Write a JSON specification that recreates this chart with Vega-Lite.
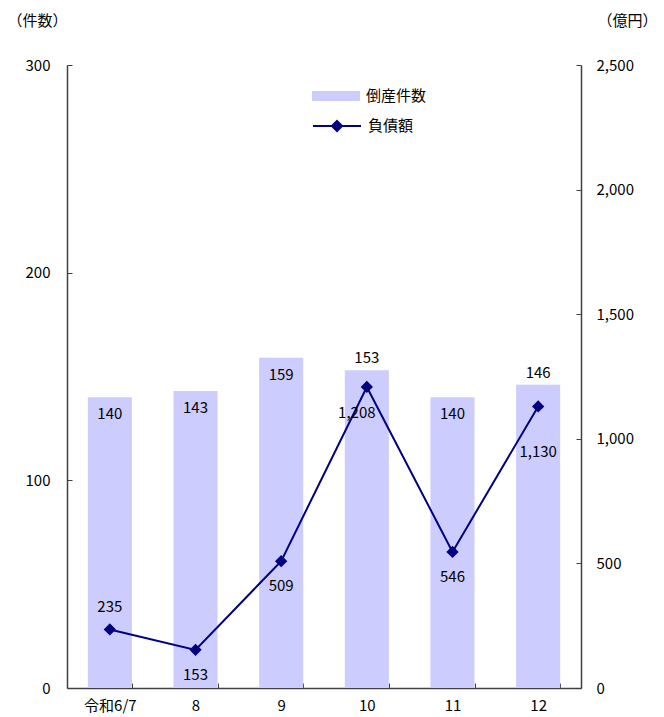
{
  "$schema": "https://vega.github.io/schema/vega-lite/v6.json",
  "autosize": "none",
  "width": 514,
  "height": 623,
  "padding": {"left": 67, "top": 65, "right": 83, "bottom": 29},
  "background": "white",
  "config": {
    "view": {"stroke": null},
    "font": "Noto Sans CJK JP",
    "axis": {"labelFont": "Noto Sans CJK JP", "labelFontSize": 15, "labelColor": "#000", "titleFont": "Noto Sans CJK JP", "titleFontSize": 15, "titleFontWeight": "normal", "titleColor": "#000", "domainColor": "#404040", "tickColor": "#404040", "grid": false},
    "legend": {"labelFont": "Noto Sans CJK JP", "labelFontSize": 15, "labelColor": "#000", "padding": 0}
  },
  "data": {"values": [
    {"month": "令和6/7", "count": 140, "debt": 235},
    {"month": "8", "count": 143, "debt": 153},
    {"month": "9", "count": 159, "debt": 509},
    {"month": "10", "count": 153, "debt": 1208},
    {"month": "11", "count": 140, "debt": 546},
    {"month": "12", "count": 146, "debt": 1130}
  ]},
  "encoding": {
    "x": {"field": "month", "type": "nominal", "sort": null,
      "scale": {"paddingInner": 0.486, "paddingOuter": 0.243},
      "axis": {"title": null, "labelAngle": 0, "tickBand": "extent", "tickSize": -5, "labelPadding": 15, "domainWidth": 1.5}}
  },
  "layer": [
    {
      "encoding": {
        "y": {"field": "count", "type": "quantitative",
          "scale": {"domain": [0, 300], "nice": false},
          "axis": {"title": "（件数）", "titleAngle": 0, "titleAlign": "center", "titleBaseline": "middle", "titleX": -30, "titleY": -45, "values": [0, 100, 200, 300], "tickSize": -5, "labelPadding": 22, "domainWidth": 1.5}}
      },
      "layer": [
        {"mark": {"type": "bar", "color": "#CCCCFF"},
          "encoding": {"fill": {"datum": "倒産件数", "type": "nominal", "scale": {"range": ["#CCCCFF"]},
            "legend": {"title": null, "orient": "none", "legendX": 245, "legendY": 7, "symbolType": "M-1,-0.21H1V0.21H-1Z", "symbolSize": 2304, "symbolStrokeWidth": 0, "labelOffset": 6}}}},
        {"transform": [{"filter": "datum.month != '10' && datum.month != '12'"}],
          "mark": {"type": "text", "fontSize": 15, "baseline": "middle", "dy": 17, "color": "#000"},
          "encoding": {"text": {"field": "count", "type": "quantitative"}}},
        {"transform": [{"filter": "datum.month == '10' || datum.month == '12'"}],
          "mark": {"type": "text", "fontSize": 15, "baseline": "middle", "dy": -12, "color": "#000"},
          "encoding": {"text": {"field": "count", "type": "quantitative"}}}
      ]
    },
    {
      "encoding": {
        "y": {"field": "debt", "type": "quantitative",
          "scale": {"domain": [0, 2500], "nice": false},
          "axis": {"orient": "right", "title": "（億円）", "titleAngle": 0, "titleAlign": "center", "titleBaseline": "middle", "titleX": 46, "titleY": -45, "values": [0, 500, 1000, 1500, 2000, 2500], "format": ",.0f", "tickSize": -5, "labelPadding": 20, "domainWidth": 1.5}}
      },
      "layer": [
        {"mark": {"type": "line", "color": "#000080", "strokeWidth": 2, "point": {"shape": "diamond", "size": 90, "filled": true, "color": "#000080"}},
          "encoding": {"stroke": {"datum": "負債額", "type": "nominal", "scale": {"range": ["#000080"]},
            "legend": {"title": null, "orient": "none", "legendX": 245, "legendY": 36, "symbolType": "M-1,0H1M0,-0.21L0.21,0L0,0.21L-0.21,0Z", "symbolSize": 2304, "symbolStrokeWidth": 2, "symbolFillColor": "#000080", "labelOffset": 6}}}},
        {"transform": [{"filter": "datum.month == '令和6/7'"}],
          "mark": {"type": "text", "fontSize": 15, "baseline": "middle", "dy": -22, "color": "#000"},
          "encoding": {"text": {"field": "debt", "type": "quantitative", "format": ",.0f"}}},
        {"transform": [{"filter": "datum.month != '令和6/7' && datum.month != '12' && datum.month != '10'"}],
          "mark": {"type": "text", "fontSize": 15, "baseline": "middle", "dy": 25, "color": "#000"},
          "encoding": {"text": {"field": "debt", "type": "quantitative", "format": ",.0f"}}},
        {"transform": [{"filter": "datum.month == '10'"}],
          "mark": {"type": "text", "fontSize": 15, "baseline": "middle", "dy": 26, "dx": -10, "color": "#000"},
          "encoding": {"text": {"field": "debt", "type": "quantitative", "format": ",.0f"}}},
        {"transform": [{"filter": "datum.month == '12'"}],
          "mark": {"type": "text", "fontSize": 15, "baseline": "middle", "dy": 46, "color": "#000"},
          "encoding": {"text": {"field": "debt", "type": "quantitative", "format": ",.0f"}}}
      ]
    }
  ],
  "resolve": {"scale": {"y": "independent"}}
}
